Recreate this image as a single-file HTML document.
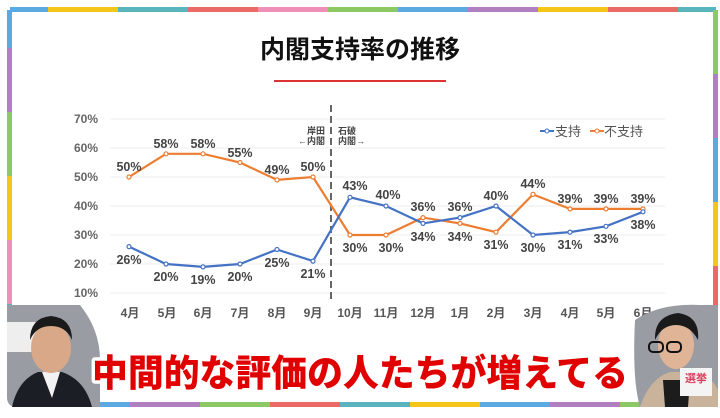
<!DOCTYPE html><html><head><meta charset="utf-8"><style>
body{margin:0;width:720px;height:413px;overflow:hidden;background:#fff;font-family:"Liberation Sans","Noto Sans CJK JP",sans-serif}
</style></head><body>
<svg width="720" height="413" viewBox="0 0 720 413" xmlns="http://www.w3.org/2000/svg" font-family="Liberation Sans, Noto Sans CJK JP, sans-serif">
<rect width="720" height="413" fill="#fff"/>
<g>
<rect x="7" y="7" width="711" height="400" rx="10" fill="#fff"/>
<rect x="10" y="7" width="38" height="5" fill="#5aa9e0"/>
<rect x="48" y="7" width="70" height="5" fill="#f5c518"/>
<rect x="118" y="7" width="70" height="5" fill="#5ab4bd"/>
<rect x="188" y="7" width="70" height="5" fill="#ec6a66"/>
<rect x="258" y="7" width="70" height="5" fill="#ef8fb8"/>
<rect x="328" y="7" width="70" height="5" fill="#8cc863"/>
<rect x="398" y="7" width="70" height="5" fill="#5aa9e0"/>
<rect x="468" y="7" width="70" height="5" fill="#b07fc0"/>
<rect x="538" y="7" width="70" height="5" fill="#f5c518"/>
<rect x="608" y="7" width="70" height="5" fill="#ec6a66"/>
<rect x="678" y="7" width="38" height="5" fill="#5ab4bd"/>
<rect x="7" y="10" width="5" height="38" fill="#5aa9e0"/>
<rect x="7" y="48" width="5" height="64" fill="#b07fc0"/>
<rect x="7" y="112" width="5" height="64" fill="#8cc863"/>
<rect x="7" y="176" width="5" height="64" fill="#f5c518"/>
<rect x="7" y="240" width="5" height="64" fill="#ef8fb8"/>
<rect x="7" y="304" width="5" height="40" fill="#5ab4bd"/>
<rect x="713" y="10" width="5" height="64" fill="#8cc863"/>
<rect x="713" y="74" width="5" height="64" fill="#b07fc0"/>
<rect x="713" y="138" width="5" height="64" fill="#5aa9e0"/>
<rect x="713" y="202" width="5" height="64" fill="#f5c518"/>
<rect x="713" y="266" width="5" height="64" fill="#ec6a66"/>
<rect x="60" y="402" width="70" height="5" fill="#5aa9e0"/>
<rect x="130" y="402" width="70" height="5" fill="#b07fc0"/>
<rect x="200" y="402" width="70" height="5" fill="#8cc863"/>
<rect x="270" y="402" width="70" height="5" fill="#ec6a66"/>
<rect x="340" y="402" width="70" height="5" fill="#5ab4bd"/>
<rect x="410" y="402" width="70" height="5" fill="#f5c518"/>
<rect x="480" y="402" width="70" height="5" fill="#5aa9e0"/>
<rect x="550" y="402" width="70" height="5" fill="#b07fc0"/>
<rect x="620" y="402" width="30" height="5" fill="#8cc863"/>
</g>
<text x="360" y="58" font-size="25" font-weight="bold" text-anchor="middle" fill="#111">内閣支持率の推移</text>
<rect x="274" y="80" width="172" height="2" fill="#d33"/>
<g stroke="#ececec" stroke-width="1">
<line x1="110" y1="119" x2="665" y2="119"/><line x1="110" y1="148" x2="665" y2="148"/>
<line x1="110" y1="177" x2="665" y2="177"/><line x1="110" y1="206" x2="665" y2="206"/>
<line x1="110" y1="235" x2="665" y2="235"/><line x1="110" y1="264" x2="665" y2="264"/>
<line x1="110" y1="293" x2="665" y2="293"/>
</g>
<g font-size="12" font-weight="bold" fill="#666" text-anchor="end">
<text x="98" y="123">70%</text><text x="98" y="152">60%</text><text x="98" y="181">50%</text>
<text x="98" y="210">40%</text><text x="98" y="239">30%</text><text x="98" y="268">20%</text><text x="98" y="297">10%</text>
</g>
<line x1="331" y1="105" x2="331" y2="302" stroke="#666" stroke-width="2" stroke-dasharray="7,4"/>
<g font-size="9" font-weight="bold" fill="#444">
<text x="325" y="134" text-anchor="end">岸田</text><text x="325" y="144" text-anchor="end">←内閣</text>
<text x="338" y="134">石破</text><text x="338" y="144">内閣→</text>
</g>
<line x1="540" y1="131" x2="554" y2="131" stroke="#4472c4" stroke-width="2"/><circle cx="547" cy="131" r="2" fill="#fff" stroke="#4472c4"/>
<text x="555" y="136" font-size="13" fill="#555">支持</text>
<line x1="590" y1="131" x2="604" y2="131" stroke="#ed7d31" stroke-width="2"/><circle cx="597" cy="131" r="2" fill="#fff" stroke="#ed7d31"/>
<text x="604" y="136" font-size="13" fill="#555">不支持</text>
<polyline fill="none" stroke="#ed7d31" stroke-width="2.2" points="129,177 166,153.8 203,153.8 240,162.5 277,179.9 313,177 350,235 386,235 423,217.6 460,223.4 496,232.1 533,194.4 570,208.9 606,208.9 643,208.9"/>
<polyline fill="none" stroke="#4472c4" stroke-width="2.2" points="129,246.6 166,264 203,266.9 240,264 277,249.5 313,261.1 350,197.3 386,206 423,223.4 460,217.6 496,206 533,235 570,232.1 606,226.3 643,211.8"/>
<g fill="#fff" stroke-width="1.2">
<g stroke="#ed7d31"><circle cx="129" cy="177" r="2"/><circle cx="166" cy="153.8" r="2"/><circle cx="203" cy="153.8" r="2"/><circle cx="240" cy="162.5" r="2"/><circle cx="277" cy="179.9" r="2"/><circle cx="313" cy="177" r="2"/><circle cx="350" cy="235" r="2"/><circle cx="386" cy="235" r="2"/><circle cx="423" cy="217.6" r="2"/><circle cx="460" cy="223.4" r="2"/><circle cx="496" cy="232.1" r="2"/><circle cx="533" cy="194.4" r="2"/><circle cx="570" cy="208.9" r="2"/><circle cx="606" cy="208.9" r="2"/><circle cx="643" cy="208.9" r="2"/></g>
<g stroke="#4472c4"><circle cx="129" cy="246.6" r="2"/><circle cx="166" cy="264" r="2"/><circle cx="203" cy="266.9" r="2"/><circle cx="240" cy="264" r="2"/><circle cx="277" cy="249.5" r="2"/><circle cx="313" cy="261.1" r="2"/><circle cx="350" cy="197.3" r="2"/><circle cx="386" cy="206" r="2"/><circle cx="423" cy="223.4" r="2"/><circle cx="460" cy="217.6" r="2"/><circle cx="496" cy="206" r="2"/><circle cx="533" cy="235" r="2"/><circle cx="570" cy="232.1" r="2"/><circle cx="606" cy="226.3" r="2"/><circle cx="643" cy="211.8" r="2"/></g>
</g>
<g font-size="12.5" font-weight="bold" fill="#444" text-anchor="middle">
<text x="129" y="171">50%</text><text x="166" y="148">58%</text><text x="203" y="148">58%</text><text x="240" y="157">55%</text><text x="277" y="174">49%</text><text x="313" y="171">50%</text>
<text x="355" y="252">30%</text><text x="391" y="252">30%</text><text x="423" y="211">36%</text><text x="460" y="211">36%</text><text x="496" y="200">40%</text><text x="533" y="188">44%</text><text x="570" y="203">39%</text><text x="606" y="203">39%</text><text x="643" y="203">39%</text>
<text x="129" y="264">26%</text><text x="166" y="281">20%</text><text x="203" y="284">19%</text><text x="240" y="281">20%</text><text x="277" y="267">25%</text><text x="313" y="278">21%</text>
<text x="355" y="190">43%</text><text x="388" y="199">40%</text><text x="423" y="241">34%</text><text x="460" y="241">34%</text><text x="496" y="249">31%</text><text x="533" y="252">30%</text><text x="570" y="249">31%</text><text x="606" y="243">33%</text><text x="643" y="229">38%</text>
</g>
<g font-size="12" font-weight="bold" fill="#555" text-anchor="middle">
<text x="130" y="317">4月</text><text x="167" y="317">5月</text><text x="203" y="317">6月</text><text x="240" y="317">7月</text><text x="277" y="317">8月</text><text x="313" y="317">9月</text>
<text x="350" y="317">10月</text><text x="386" y="317">11月</text><text x="423" y="317">12月</text><text x="460" y="317">1月</text><text x="496" y="317">2月</text><text x="533" y="317">3月</text><text x="570" y="317">4月</text><text x="606" y="317">5月</text><text x="643" y="317">6月</text>
</g>
<path d="M7,305 H80 Q100,330 100,360 V407 H17 Q7,407 7,397 Z" fill="#9a9ca3"/>
<rect x="7" y="322" width="30" height="30" fill="#eee"/>
<path d="M12,407 Q18,380 38,372 L62,372 Q85,380 92,407 Z" fill="#1c1e26"/>
<path d="M42,372 L52,398 L60,372 Z" fill="#f2f2f2"/>
<ellipse cx="51" cy="348" rx="20" ry="25" fill="#d8a888"/>
<path d="M30,340 Q30,318 51,316 Q72,318 72,340 Q66,326 51,326 Q36,326 30,340 Z" fill="#1a1a1a"/>
<path d="M635,320 Q660,303 700,305 L718,305 V407 H640 Q632,380 635,320 Z" fill="#9a9ca3"/>
<path d="M640,407 Q650,378 670,372 L700,372 Q712,378 718,390 V407 Z" fill="#c9b39a"/>
<path d="M663,380 L690,380 L688,407 L665,407 Z" fill="#1c1c1c"/>
<ellipse cx="676" cy="345" rx="18" ry="24" fill="#e0b497"/>
<path d="M655,340 Q654,316 678,313 Q700,316 698,340 Q690,325 676,325 Q662,325 655,340 Z" fill="#1a1a1a"/>
<rect x="649" y="342" width="14" height="10" rx="4" fill="none" stroke="#111" stroke-width="2"/>
<rect x="667" y="342" width="14" height="10" rx="4" fill="none" stroke="#111" stroke-width="2"/>
<rect x="680" y="368" width="32" height="28" fill="#f4f4f4"/>
<text x="696" y="382" font-size="11" font-weight="bold" fill="#e04060" text-anchor="middle">選挙</text>
<text x="360" y="386" font-size="37" font-weight="900" text-anchor="middle" fill="#e00000" stroke="#fff" stroke-width="7" paint-order="stroke" stroke-linejoin="round" textLength="536" lengthAdjust="spacingAndGlyphs">中間的な評価の人たちが増えてる</text>
</svg>
</body></html>
